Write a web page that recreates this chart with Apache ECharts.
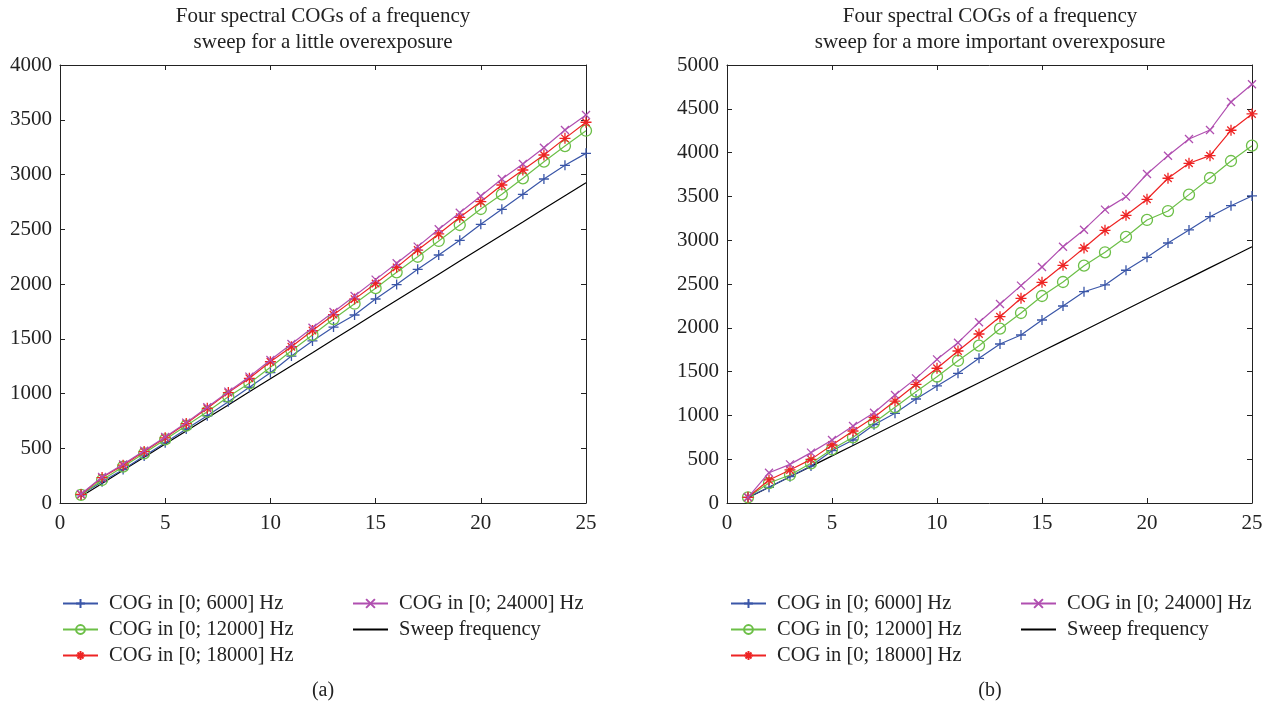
<!DOCTYPE html>
<html>
<head>
<meta charset="utf-8">
<script src="https://cdn.jsdelivr.net/npm/echarts@6/dist/echarts.min.js"></script>
<style>html,body{margin:0;padding:0;background:#fff}#c{width:1271px;height:706px}</style>
</head>
<body>
<div id="c"></div>
<script>
var xs = [1,2,3,4,5,6,7,8,9,10,11,12,13,14,15,16,17,18,19,20,21,22,23,24,25];
var names = ['COG in [0; 6000] Hz','COG in [0; 12000] Hz','COG in [0; 18000] Hz','COG in [0; 24000] Hz','Sweep frequency'];
var titleA = 'Four spectral COGs of a frequency\nsweep for a little overexposure';
var titleB = 'Four spectral COGs of a frequency\nsweep for a more important overexposure';
var xTicks = [0,5,10,15,20,25];
var yTicksA = [0,500,1000,1500,2000,2500,3000,3500,4000];
var yTicksB = [0,500,1000,1500,2000,2500,3000,3500,4000,4500,5000];

// (a) little overexposure
var cog6A  = [75,195,305,430,550,676,797,925,1057,1190,1342,1480,1607,1717,1863,1995,2134,2265,2399,2545,2682,2819,2959,3084,3193];
var cog12A = [75,210,332,454,581,706,834,971,1093,1239,1391,1535,1680,1820,1962,2107,2249,2393,2539,2685,2819,2965,3117,3260,3400];
var cog18A = [78,232,345,470,595,725,865,1008,1139,1290,1427,1575,1720,1862,2005,2152,2310,2457,2609,2752,2904,3041,3178,3330,3477];
var cog24A = [82,238,353,478,603,734,874,1017,1154,1306,1452,1600,1745,1890,2040,2189,2341,2500,2651,2804,2959,3096,3245,3406,3543];
// (b) more important overexposure
var cog6B  = [65,179,300,422,597,719,894,1024,1187,1336,1480,1652,1815,1918,2089,2249,2412,2489,2657,2805,2968,3117,3268,3394,3505];
var cog12B = [65,228,320,453,613,750,917,1092,1271,1442,1624,1796,1990,2169,2363,2523,2709,2862,3037,3231,3333,3520,3710,3904,4079];
var cog18B = [65,263,377,498,662,822,978,1164,1355,1538,1735,1929,2127,2337,2519,2713,2911,3113,3284,3467,3707,3878,3965,4255,4441];
var cog24B = [65,346,441,575,719,879,1031,1233,1423,1640,1830,2063,2272,2481,2694,2926,3120,3349,3497,3756,3965,4155,4258,4578,4780];
// sweep frequency (same in both)
var sweep  = [60,179,299,418,538,657,776,896,1015,1135,1254,1373,1493,1612,1732,1851,1970,2090,2209,2329,2448,2567,2687,2806,2925];

var FONT = '"Liberation Serif", "DejaVu Serif", serif';
var TXT = '#222';
var colors = ['#3a56a8','#6cbf47','#ee2424','#b04fb0','#000000'];
var symbols = [
  'path://M5,0L5,10M0,5L10,5',
  'circle',
  'path://M5,0L5,10M0,5L10,5M1.6,1.6L8.4,8.4M1.6,8.4L8.4,1.6',
  'path://M0,0L10,10M0,10L10,0',
  'circle'
];
var sizes = [10, 11, 11, 8, 0.01];

function pair(ys) { return xs.map(function (x, i) { return [x, ys[i]]; }); }

function mkSeries(idx, data, gi) {
  var c = colors[idx];
  var isSweep = idx === 4;
  return {
    name: names[idx], type: 'line', xAxisIndex: gi * 2, yAxisIndex: gi * 2,
    data: pair(data), symbol: symbols[idx], symbolSize: sizes[idx], showSymbol: !isSweep,
    lineStyle: { color: c, width: 1.2 },
    itemStyle: { color: 'rgba(0,0,0,0)', borderColor: isSweep ? 'rgba(0,0,0,0)' : c, borderWidth: isSweep ? 0 : 1.3 },
    emphasis: { disabled: true }, animation: false, z: isSweep ? 1 : 2 + idx
  };
}

function plainLabel(v) { return String(v); }

function xAxes(gi) {
  var base = {
    type: 'value', gridIndex: gi, min: xTicks[0], max: xTicks[xTicks.length - 1], interval: 5,
    axisLine: { show: true, onZero: false, lineStyle: { color: '#222', width: 1 } },
    axisTick: { show: true, inside: true, length: 5, lineStyle: { color: '#222' } },
    splitLine: { show: false }
  };
  var bottom = Object.assign({}, base, { position: 'bottom',
    axisLabel: { show: true, margin: 10, fontFamily: FONT, fontSize: 21, color: TXT, formatter: plainLabel } });
  var top = Object.assign({}, base, { position: 'top', axisLabel: { show: false } });
  return [bottom, top];
}
function yAxes(gi, ticks) {
  var base = {
    type: 'value', gridIndex: gi, min: ticks[0], max: ticks[ticks.length - 1], interval: 500,
    axisLine: { show: true, onZero: false, lineStyle: { color: '#222', width: 1 } },
    axisTick: { show: true, inside: true, length: 5, lineStyle: { color: '#222' } },
    splitLine: { show: false }
  };
  var left = Object.assign({}, base, { position: 'left',
    axisLabel: { show: true, margin: 8, fontFamily: FONT, fontSize: 21, color: TXT, formatter: plainLabel } });
  var right = Object.assign({}, base, { position: 'right', axisLabel: { show: false } });
  return [left, right];
}

function mkLegend(left, top, data) {
  return {
    left: left, top: top, orient: 'vertical', data: data, padding: 0,
    itemWidth: 35, itemHeight: 11, itemGap: 5, selectedMode: false,
    textStyle: { fontFamily: FONT, fontSize: 20.5, color: TXT, lineHeight: 20, padding: [0, 0, 0, 6] }
  };
}

var titleStyle = { fontFamily: FONT, fontSize: 21, fontWeight: 'normal', color: TXT, lineHeight: 26 };

var chart = echarts.init(document.getElementById('c'), null, { renderer: 'canvas' });
chart.setOption({
  animation: false,
  backgroundColor: '#fff',
  title: [
    { text: titleA, left: 323, top: 3, textAlign: 'center', padding: 0, textStyle: titleStyle },
    { text: titleB, left: 990, top: 3, textAlign: 'center', padding: 0, textStyle: titleStyle },
    { text: '(a)', left: 323, top: 681, textAlign: 'center', padding: 0,
      textStyle: { fontFamily: FONT, fontSize: 20, fontWeight: 'normal', color: TXT } },
    { text: '(b)', left: 990, top: 681, textAlign: 'center', padding: 0,
      textStyle: { fontFamily: FONT, fontSize: 20, fontWeight: 'normal', color: TXT } }
  ],
  grid: [
    { left: 60, right: 685, top: 65, bottom: 203 },
    { left: 727, right: 19, top: 65, bottom: 203 }
  ],
  xAxis: xAxes(0).concat(xAxes(1)),
  yAxis: yAxes(0, yTicksA).concat(yAxes(1, yTicksB)),
  legend: [
    mkLegend(62, 593, [names[0], names[1], names[2]]),
    mkLegend(352, 593, [names[3], names[4]]),
    mkLegend(730, 593, [names[0], names[1], names[2]]),
    mkLegend(1020, 593, [names[3], names[4]])
  ],
  series: [
    mkSeries(4, sweep, 0), mkSeries(0, cog6A, 0), mkSeries(1, cog12A, 0), mkSeries(2, cog18A, 0), mkSeries(3, cog24A, 0),
    mkSeries(4, sweep, 1), mkSeries(0, cog6B, 1), mkSeries(1, cog12B, 1), mkSeries(2, cog18B, 1), mkSeries(3, cog24B, 1)
  ]
});
</script>
</body>
</html>
